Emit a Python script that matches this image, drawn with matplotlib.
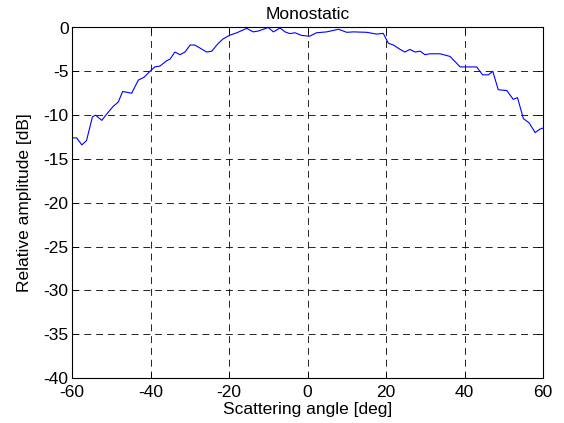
import matplotlib
matplotlib.use("Agg")
import matplotlib.pyplot as plt

angle = [-60.1, -58.8, -57.5, -56.3, -54.8, -54.0, -52.4, -51.2, -49.5, -48.2,
         -47.1, -44.8, -43.1, -41.7, -39.9, -38.9, -37.6, -35.9, -35.0, -33.8,
         -32.5, -31.2, -29.9, -28.7, -25.7, -24.4, -22.7, -21.5, -19.9, -18.0,
         -15.5, -13.8, -12.5, -10.0, -8.7, -7.0, -5.7, -4.5, -3.2, -1.5,
         0.5, 2.3, 4.9, 7.9, 10.0, 11.7, 15.1, 17.6, 19.3, 20.6,
         21.9, 23.6, 24.8, 26.1, 27.4, 28.7, 29.9, 31.2, 33.8, 36.3,
         37.6, 38.9, 40.6, 43.1, 44.6, 46.1, 47.2, 48.6, 50.8, 52.4,
         53.5, 55.0, 56.5, 58.0, 59.2, 60.5]
amplitude = [-12.6, -12.6, -13.4, -12.9, -10.2, -10.0, -10.6, -9.9, -9.0, -8.5,
             -7.3, -7.5, -6.0, -5.7, -4.9, -4.5, -4.4, -3.8, -3.6, -2.8,
             -3.1, -2.8, -2.0, -2.0, -2.8, -2.7, -1.8, -1.3, -0.9, -0.6,
             -0.1, -0.5, -0.4, 0.0, -0.5, -0.06, -0.5, -0.7, -0.6, -0.9,
             -1.0, -0.6, -0.5, -0.2, -0.55, -0.5, -0.55, -0.75, -0.67, -1.8,
             -2.0, -2.5, -2.8, -2.5, -2.8, -2.7, -3.1, -3.0, -3.0, -3.3,
             -3.9, -4.5, -4.5, -4.5, -5.4, -5.4, -5.0, -7.1, -7.2, -8.2,
             -8.0, -10.4, -10.9, -12.0, -11.6, -11.4]
xticks = [-60, -40, -20, 0, 20, 40, 60]
yticks = [-40, -35, -30, -25, -20, -15, -10, -5, 0]

plt.rcParams['font.family'] = ['Liberation Sans', 'DejaVu Sans']
plt.rcParams['axes.unicode_minus'] = False
plt.rcParams['lines.scale_dashes'] = False

fs = 12.5
fig = plt.figure(figsize=(5.64, 4.23), dpi=100)
ax = fig.add_axes([72/564, 1 - 378/423, (543-72)/564, (378-27.5)/423])
ax.plot(angle, amplitude, color='#0000ff', linewidth=0.8)
ax.set_xlim(-60, 60)
ax.set_ylim(-40, 0)
ax.set_xticks(xticks)
ax.set_yticks(yticks)
ax.grid(True, color='black', linestyle=(0, (5, 3.5)), linewidth=0.6)
ax.tick_params(direction='in', top=True, right=True, length=4, width=0.6,
               colors='black', labelsize=fs)
ax.tick_params(axis='x', pad=5)
ax.tick_params(axis='y', pad=2.5)
for s in ax.spines.values():
    s.set_linewidth(0.8)
ax.set_xlabel('Scattering angle [deg]', fontsize=fs, labelpad=1.5)
ax.set_ylabel('Relative amplitude [dB]', fontsize=fs, labelpad=8)
ax.set_title('Monostatic', fontsize=fs, pad=6)
fig.savefig('out.png', dpi=100)
